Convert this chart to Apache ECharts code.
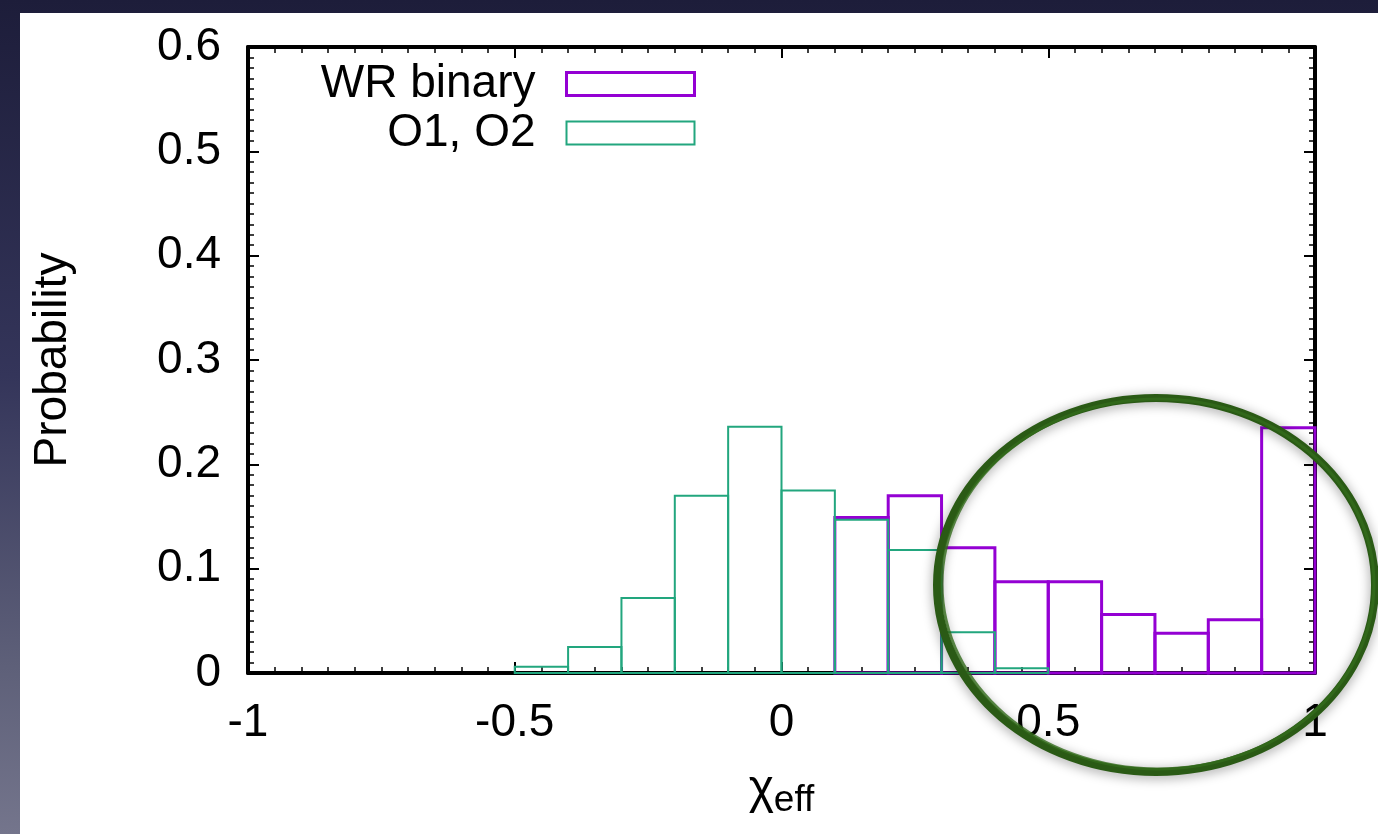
<!DOCTYPE html>
<html>
<head>
<meta charset="utf-8">
<script src="https://cdn.jsdelivr.net/npm/echarts@6/dist/echarts.min.js"></script>
<style>
  html, body { margin: 0; padding: 0; width: 1378px; height: 834px; overflow: hidden;
    background: linear-gradient(to bottom, #1d1d3a 0%, #34355a 45%, #5e6079 80%, #74758c 100%); }
  #chart { position: absolute; left: 20px; top: 13px; width: 1358px; height: 821px; background: #ffffff; }
</style>
</head>
<body>
<div id="chart"></div>
<script>
// ---- data ----
var binStarts = [-1.0, -0.9, -0.8, -0.7, -0.6, -0.5, -0.4, -0.3, -0.2, -0.1,
                  0.0,  0.1,  0.2,  0.3,  0.4,  0.5,  0.6,  0.7,  0.8,  0.9];
var binWidth = 0.1;
var wrBinary = [0, 0, 0, 0, 0, 0, 0, 0, 0, 0,
                0, 0.149, 0.170, 0.120, 0.0875, 0.0875, 0.056, 0.038, 0.051, 0.235];
var o1o2 =     [0, 0, 0, 0, 0, 0.006, 0.025, 0.072, 0.170, 0.236,
                0.175, 0.147, 0.118, 0.039, 0.0045, 0, 0, 0, 0, 0];
var seriesNames = ['WR binary', 'O1, O2'];
var xTicks = { min: -1, max: 1, step: 0.5 };
var yTicks = { min: 0, max: 0.6, step: 0.1 };

var PURPLE = '#9400D3';
var GREEN = '#22a67e';
var FONT = 'Liberation Sans, Arial, Helvetica, sans-serif';
var FS = 46;

function toBins(values) {
  return binStarts.map(function (s, i) { return [s, +(s + binWidth).toFixed(2), values[i]]; });
}
function makeRender(color, width) {
  return function (params, api) {
    var x0 = api.value(0), x1 = api.value(1), v = api.value(2);
    if (!(v > 0)) return;
    var pTop = api.coord([x0, v]);
    var pBot = api.coord([x1, 0]);
    return {
      type: 'rect',
      shape: { x: pTop[0], y: pTop[1], width: pBot[0] - pTop[0], height: pBot[1] - pTop[1] },
      style: { fill: 'none', stroke: color, lineWidth: width }
    };
  };
}

var axisLineStyle = { color: '#000', width: 4 };
var tickCommon = { show: true, inside: true, length: 11, lineStyle: { color: '#000', width: 2 } };
var minorCommon = { show: true, splitNumber: 10, length: 6, lineStyle: { color: '#000', width: 1.5 } };
var labelCommon = { color: '#000', fontFamily: FONT, fontSize: FS };

function xAxisDef(pos, showLabel) {
  return {
    type: 'value', position: pos, min: xTicks.min, max: xTicks.max, interval: xTicks.step,
    axisLine: { show: true, onZero: false, lineStyle: axisLineStyle },
    axisTick: tickCommon, minorTick: minorCommon,
    splitLine: { show: false }, minorSplitLine: { show: false },
    axisLabel: Object.assign({ show: showLabel, margin: 27 }, labelCommon)
  };
}
function yAxisDef(pos, showLabel) {
  return {
    type: 'value', position: pos, min: yTicks.min, max: yTicks.max, interval: yTicks.step,
    axisLine: { show: true, onZero: false, lineStyle: axisLineStyle },
    axisTick: tickCommon, minorTick: minorCommon,
    splitLine: { show: false }, minorSplitLine: { show: false },
    axisLabel: Object.assign({ show: showLabel, margin: 27 }, labelCommon)
  };
}

var xBottom = xAxisDef('bottom', true);
xBottom.name = '{a|χ}{b|eff}';
xBottom.nameLocation = 'middle';
xBottom.nameGap = 88;
xBottom.nameTextStyle = {
  color: '#000', fontFamily: FONT,
  rich: {
    a: { fontSize: 48, lineHeight: 58, verticalAlign: 'middle', fontFamily: FONT, color: '#000' },
    b: { fontSize: 37, lineHeight: 37, verticalAlign: 'bottom', fontFamily: FONT, color: '#000' }
  }
};
var yLeft = yAxisDef('left', true);
yLeft.name = 'Probability';
yLeft.nameLocation = 'middle';
yLeft.nameRotate = 90;
yLeft.nameGap = 172;
yLeft.nameTextStyle = { color: '#000', fontFamily: FONT, fontSize: FS };

var chart = echarts.init(document.getElementById('chart'), null, { renderer: 'canvas' });
chart.setOption({
  animation: false,
  backgroundColor: '#ffffff',
  grid: { left: 228, top: 34, right: 63, bottom: 161, containLabel: false },
  xAxis: [xBottom, xAxisDef('top', false)],
  yAxis: [yLeft, yAxisDef('right', false)],
  legend: {
    show: true, orient: 'vertical', align: 'right', right: 682, top: 48, padding: 0,
    icon: 'rect', itemWidth: 128, itemHeight: 23, itemGap: 3,
    textStyle: { color: '#000', fontFamily: FONT, fontSize: FS, lineHeight: 46, padding: [0, 26, 0, 0] },
    data: [
      { name: seriesNames[0], itemStyle: { color: '#fff', borderColor: PURPLE, borderWidth: 3 } },
      { name: seriesNames[1], itemStyle: { color: '#fff', borderColor: GREEN, borderWidth: 2 } }
    ]
  },
  series: [
    {
      name: seriesNames[0], type: 'custom', xAxisIndex: 0, yAxisIndex: 0,
      renderItem: makeRender(PURPLE, 3), encode: { x: [0, 1], y: 2 },
      itemStyle: { color: '#fff', borderColor: PURPLE, borderWidth: 3 },
      data: toBins(wrBinary), z: 2
    },
    {
      name: seriesNames[1], type: 'custom', xAxisIndex: 0, yAxisIndex: 0,
      renderItem: makeRender(GREEN, 2), encode: { x: [0, 1], y: 2 },
      itemStyle: { color: '#fff', borderColor: GREEN, borderWidth: 2 },
      data: toBins(o1o2), z: 3
    }
  ],
  graphic: [
    {
      type: 'ellipse', z: 100, silent: true,
      shape: { cx: 1136, cy: 572, rx: 219, ry: 187 },
      style: { fill: 'none', stroke: '#2a5a15', lineWidth: 8,
               shadowBlur: 12, shadowColor: 'rgba(0,0,0,0.4)', shadowOffsetX: 0, shadowOffsetY: 2 }
    },
    {
      type: 'ellipse', z: 101, silent: true,
      shape: { cx: 1138, cy: 571, rx: 216, ry: 185 },
      style: { fill: 'none', stroke: '#336b1c', lineWidth: 3, opacity: 0.8 }
    }
  ]
});
</script>
</body>
</html>
